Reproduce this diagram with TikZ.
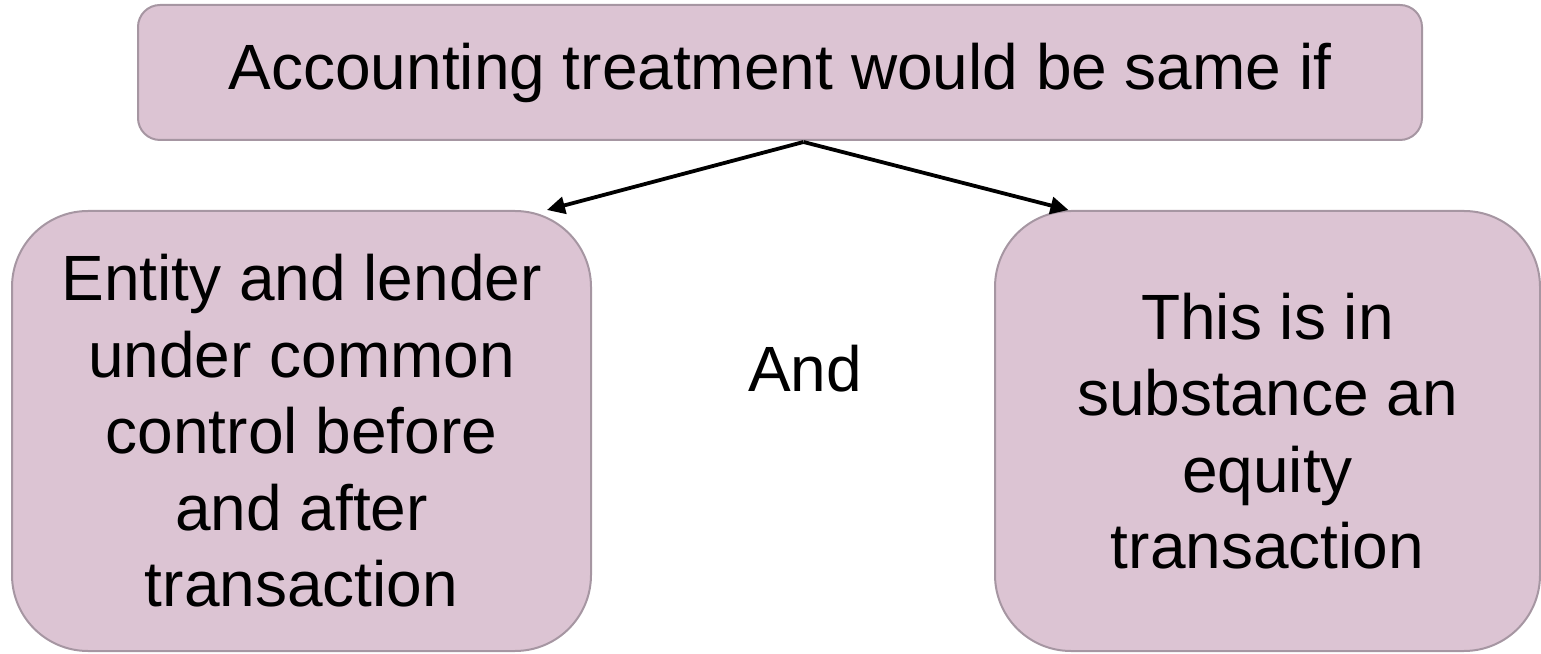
\documentclass[tikz,border=0pt]{standalone}
\usepackage{fontspec}
\setmainfont{Liberation Sans}
\usetikzlibrary{arrows.meta,calc}
\definecolor{boxfill}{RGB}{220,196,211}
\definecolor{boxline}{RGB}{166,150,162}
\begin{document}
\begin{tikzpicture}[x=1pt,y=1pt,
  bigtext/.style={font=\fontsize{64}{76.5}\selectfont},
  panel/.style={draw=boxline,line width=2pt,fill=boxfill,inner sep=0pt,
    bigtext,align=center},
  link/.style={line width=3.8pt,-{Triangle[length=18pt,width=17pt]}}]
\useasboundingbox (0,0) rectangle (1541,653);
% header box
\node[panel,rounded corners=22pt,minimum width=1284pt,minimum height=135pt]
  (top) at (780,580.5) {Accounting treatment would be same if};
% the two conditions
\node[panel,rounded corners=76pt,minimum width=579pt,minimum height=440pt]
  (lft) at (301.5,222) {Entity and lender\\under common\\control before\\and after\\transaction};
\node[panel,rounded corners=76pt,minimum width=545pt,minimum height=440pt]
  (rgt) at (1267.5,222) {This is in\\substance an\\equity\\transaction};
\node[bigtext,inner sep=0pt,anchor=base] (and) at (805,261) {And};
% branching connectors
\coordinate (fork) at ($(top.south)+(23.5,-1)$);
\draw[link] (fork) -- (lft.42.4);
\draw[link] (fork) -- (rgt.132.3);
\end{tikzpicture}
\end{document}
